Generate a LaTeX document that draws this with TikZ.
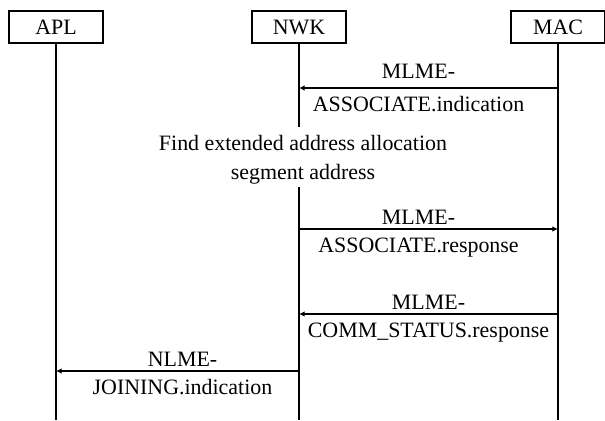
\documentclass[tikz,border=0pt]{standalone}
\usepackage{fontspec}
\setmainfont{Liberation Serif}
\usetikzlibrary{arrows.meta,positioning,calc}

\begin{document}
\begin{tikzpicture}[
    every node/.style={font=\fontsize{15.6}{20.6}\selectfont},
    layer/.style={rectangle, draw=black, line width=1.3pt, minimum width=2.35cm,
        minimum height=0.8cm, align=center},
    lifeline/.style={line width=1.3pt},
    msg/.style={-{Latex[length=4pt,width=4pt]}, line width=1.1pt},
    uplbl/.style={anchor=base, yshift=0.12cm},
    downlbl/.style={anchor=base, yshift=-0.58cm},
]
\useasboundingbox (0,0) rectangle (15.125,-10.5);

% Layers
\node[layer] (apl) at (1.4, -0.675) {APL};
\node[layer] (nwk) at (7.475, -0.675) {NWK};
\node[layer] (mac) at (13.95, -0.675) {MAC};

% Lifeline ends and gap
\coordinate (bottom) at (0, -10.5);
\coordinate (gaptop) at (0, -3.175);
\coordinate (gapbot) at (0, -4.675);

% Lifelines
\draw[lifeline] (apl.south) -- (apl |- bottom);
\draw[lifeline] (mac.south) -- (mac |- bottom);
\draw[lifeline] (nwk.south) -- (nwk |- gaptop);
\draw[lifeline] (nwk |- gapbot) -- (nwk |- bottom);

% Message rows
\coordinate (m1) at (0, -2.2);
\coordinate (m2) at (0, -5.725);
\coordinate (m3) at (0, -7.85);
\coordinate (m4) at (0, -9.275);

% Messages
\draw[msg] (mac |- m1) -- (nwk |- m1)
    node[midway, uplbl, xshift=-0.25cm, yshift=0.13cm] {MLME-}
    node[midway, downlbl, xshift=-0.25cm] {ASSOCIATE.indication};

% Processing step
\node[align=center] (find) at (7.575, -4.0) {Find extended address allocation\\segment address};

\draw[msg] (nwk |- m2) -- (mac |- m2)
    node[midway, uplbl, xshift=-0.25cm] {MLME-}
    node[midway, downlbl, xshift=-0.25cm] {ASSOCIATE.response};
\draw[msg] (mac |- m3) -- (nwk |- m3)
    node[midway, uplbl] {MLME-}
    node[midway, downlbl] {COMM\_STATUS.response};
\draw[msg] (nwk |- m4) -- (apl |- m4)
    node[midway, uplbl, xshift=0.125cm] {NLME-}
    node[midway, downlbl, xshift=0.125cm] {JOINING.indication};

\end{tikzpicture}
\end{document}
